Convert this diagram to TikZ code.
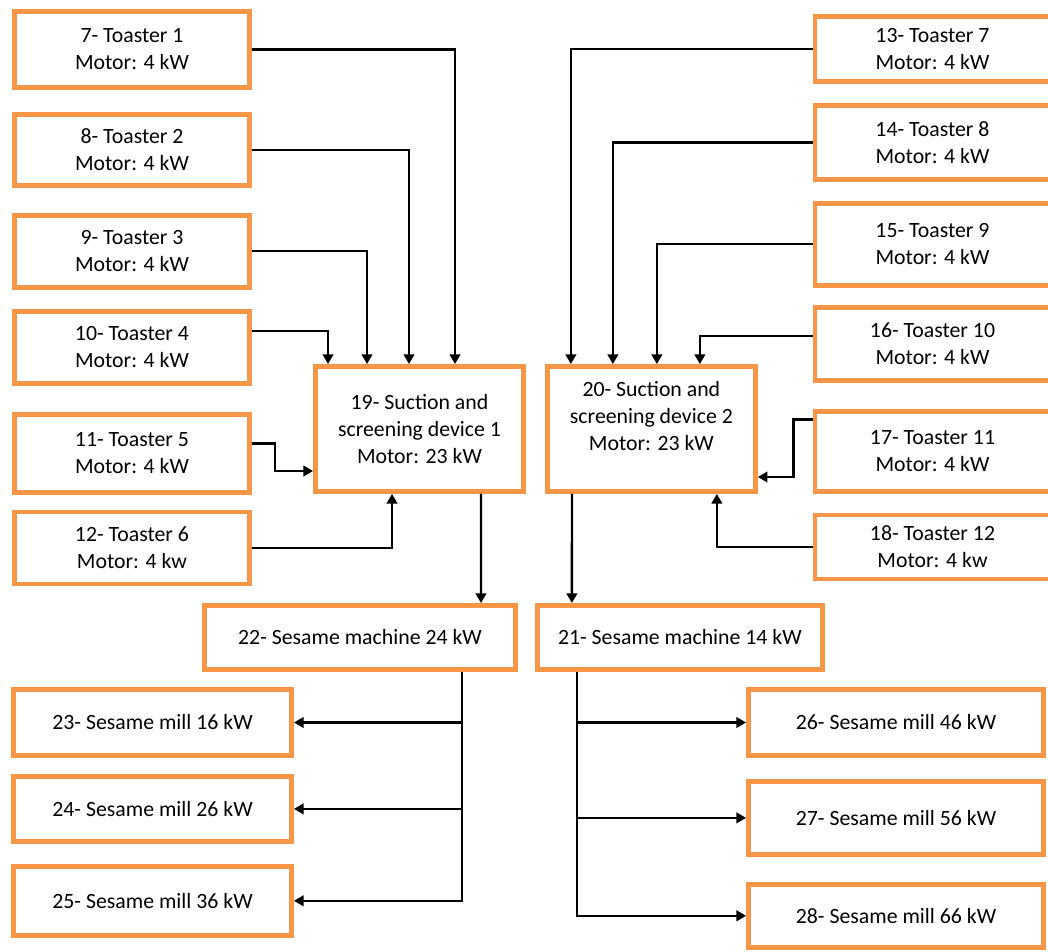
\documentclass[tikz,border=0pt]{standalone}
\usepackage{fontspec}
\setmainfont{Carlito}
\usetikzlibrary{positioning, arrows.meta}
\definecolor{colorBorder}{RGB}{247,150,70}

\begin{document}
\begin{tikzpicture}[
    x=0.02cm, y=-0.02cm,
    box/.style={rectangle, draw=colorBorder, line width=2.8pt, fill=white, align=center,
                font=\fontsize{12.4}{15.3}\selectfont, inner sep=0pt},
    toaster/.style={box, minimum width=4.7cm, minimum height=1.44cm},
    suction/.style={box, minimum width=4.16cm, minimum height=2.5cm},
    machine/.style={box, minimum height=1.28cm},
    mill/.style={box, minimum width=5.56cm, minimum height=1.32cm},
    arrow/.style={-{Triangle[length=5.5pt,width=6pt]}, line width=1.3pt, color=black}
]
\path[use as bounding box, fill=white] (0,0) rectangle (1048,952);

% Toasters feeding device 1
\node[toaster, minimum height=1.52cm] (Toaster1) at (132,49.5) {7- Toaster 1\\Motor: 4 kW};
\node[toaster, minimum height=1.42cm, below=0.44cm of Toaster1] (Toaster2) {8- Toaster 2\\Motor: 4 kW};
\node[toaster, below=0.5cm of Toaster2] (Toaster3) {9- Toaster 3\\Motor: 4 kW};
\node[toaster, below=0.38cm of Toaster3] (Toaster4) {10- Toaster 4\\Motor: 4 kW};
\node[toaster, minimum height=1.56cm, below=0.52cm of Toaster4] (Toaster5) {11- Toaster 5\\Motor: 4 kW};
\node[toaster, below=0.3cm of Toaster5] (Toaster6) {12- Toaster 6\\Motor: 4 kw};

% Toasters feeding device 2
\node[toaster, minimum height=1.3cm] (Toaster7) at (932.5,49) {13- Toaster 7\\Motor: 4 kW};
\node[toaster, minimum height=1.48cm, below=0.38cm of Toaster7] (Toaster8) {14- Toaster 8\\Motor: 4 kW};
\node[toaster, minimum height=1.64cm, below=0.38cm of Toaster8] (Toaster9) {15- Toaster 9\\Motor: 4 kW};
\node[toaster, minimum height=1.46cm, below=0.34cm of Toaster9] (Toaster10) {16- Toaster 10\\Motor: 4 kW};
\node[toaster, minimum height=1.6cm, below=0.52cm of Toaster10] (Toaster11) {17- Toaster 11\\Motor: 4 kW};
\node[toaster, minimum height=1.28cm, below=0.38cm of Toaster11] (Toaster12) {18- Toaster 12\\Motor: 4 kw};

% Suction and screening devices
\node[suction] (Suction1) at (419.5,429) {19- Suction and\\screening device 1\\Motor: 23 kW};
\node[suction, right=0.38cm of Suction1] (Suction2) {20- Suction and\\screening device 2\\Motor: 23 kW\\\mbox{}};

% Sesame machines
\node[machine, minimum width=6.22cm] (Sesame1) at (360,637.5) {22- Sesame machine 24 kW};
\node[machine, minimum width=5.7cm, right=0.34cm of Sesame1] (Sesame2) {21- Sesame machine 14 kW};

% Sesame mills
\node[mill] (Mill1) at (152.5,722.5) {23- Sesame mill 16 kW};
\node[mill, minimum height=1.3cm, below=0.32cm of Mill1] (Mill2) {24- Sesame mill 26 kW};
\node[mill, minimum height=1.38cm, below=0.4cm of Mill2] (Mill3) {25- Sesame mill 36 kW};
\node[mill, minimum width=5.9cm] (Mill4) at (896,722.5) {26- Sesame mill 46 kW};
\node[mill, minimum width=5.9cm, minimum height=1.46cm, below=0.42cm of Mill4] (Mill5) {27- Sesame mill 56 kW};
\node[mill, minimum width=5.9cm, minimum height=1.26cm, below=0.5cm of Mill5] (Mill6) {28- Sesame mill 66 kW};

% Arrows into device 1
\draw[arrow] (Toaster1.east) -| ([xshift=0.71cm]Suction1.north);
\draw[arrow] (Toaster2.east) -| ([xshift=-0.21cm]Suction1.north);
\draw[arrow] (Toaster3.east) -| ([xshift=-1.05cm]Suction1.north);
\draw[arrow] ([yshift=0.33cm]Toaster4.east) -| ([xshift=-1.83cm]Suction1.north);
\draw[arrow] ([yshift=0.19cm]Toaster5.east) -- ++(0.46cm,0) |- ([yshift=-0.84cm]Suction1.west);
\draw[arrow] (Toaster6.east) -| ([xshift=-0.55cm]Suction1.south);

% Arrows into device 2
\draw[arrow] (Toaster7.west) -| ([xshift=-1.61cm]Suction2.north);
\draw[arrow] (Toaster8.west) -| ([xshift=-0.77cm]Suction2.north);
\draw[arrow] (Toaster9.west) -| ([xshift=0.11cm]Suction2.north);
\draw[arrow] ([yshift=0.16cm]Toaster10.west) -| ([xshift=0.97cm]Suction2.north);
\draw[arrow] ([yshift=0.63cm]Toaster11.west) -- ++(-0.38cm,0) |- ([yshift=-0.96cm]Suction2.east);
\draw[arrow] (Toaster12.west) -| ([xshift=1.31cm]Suction2.south);

% Devices to sesame machines
\draw[arrow] ([xshift=1.23cm]Suction1.south) -- ([xshift=2.42cm]Sesame1.north);
\draw[arrow] ([xshift=-1.59cm]Suction2.south) -- ([xshift=-2.16cm]Sesame2.north);

% Sesame machines to mills
\draw[arrow] ([xshift=2.04cm]Sesame1.south) |- (Mill1.east);
\draw[arrow] ([xshift=2.04cm]Sesame1.south) |- (Mill2.east);
\draw[arrow] ([xshift=2.04cm]Sesame1.south) |- (Mill3.east);
\draw[arrow] ([xshift=-2.06cm]Sesame2.south) |- (Mill4.west);
\draw[arrow] ([xshift=-2.06cm]Sesame2.south) |- (Mill5.west);
\draw[arrow] ([xshift=-2.06cm]Sesame2.south) |- (Mill6.west);

\end{tikzpicture}
\end{document}
